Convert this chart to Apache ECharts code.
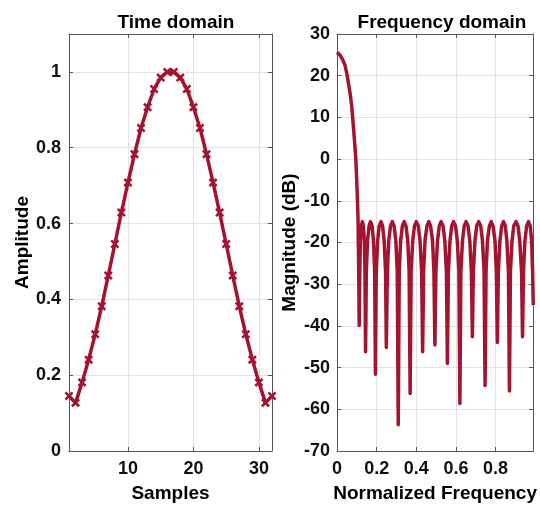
<!DOCTYPE html>
<html>
<head>
<meta charset="utf-8">
<script src="https://cdn.jsdelivr.net/npm/echarts@6/dist/echarts.min.js"></script>
<style>
html,body{margin:0;padding:0;background:#fff;}
#chart{width:540px;height:508px;}
</style>
</head>
<body>
<div id="chart"></div>
<script>
// ---- Data ----
const samples = [1,2,3,4,5,6,7,8,9,10,11,12,13,14,15,16,17,18,19,20,21,22,23,24,25,26,27,28,29,30,31,32];
const timeAmplitude = [0.145,0.127,0.181,0.241,0.308,0.382,0.463,0.546,0.629,0.708,0.783,0.852,0.907,0.955,0.985,1.0,
                       1.0,0.985,0.955,0.907,0.852,0.783,0.708,0.629,0.546,0.463,0.382,0.308,0.241,0.181,0.127,0.145];
const sampleTicks = [10,20,30];

const freqNorm = [
  0,0.008,0.016,0.028,0.041,0.049,0.057,0.066,0.074,0.085,0.095,0.101,0.106,0.109,0.112,
  0.115,0.118,0.123,0.128,0.133,0.138,0.141,0.144,
  0.148,0.154,0.162,0.169,0.177,0.184,0.190,0.194,
  0.198,0.205,0.213,0.222,0.230,0.238,0.245,0.249,
  0.254,0.261,0.270,0.279,0.288,0.297,0.304,0.309,
  0.314,0.321,0.330,0.339,0.348,0.357,0.364,0.369,
  0.374,0.382,0.391,0.400,0.410,0.419,0.427,0.432,
  0.437,0.444,0.454,0.463,0.472,0.482,0.489,0.494,
  0.499,0.507,0.516,0.525,0.535,0.544,0.552,0.557,
  0.562,0.570,0.579,0.588,0.598,0.607,0.615,0.620,
  0.625,0.633,0.642,0.651,0.661,0.670,0.678,0.683,
  0.688,0.696,0.705,0.715,0.725,0.734,0.742,0.747,
  0.752,0.759,0.769,0.778,0.787,0.797,0.804,0.809,
  0.814,0.822,0.831,0.840,0.849,0.857,0.865,0.870,
  0.875,0.883,0.892,0.903,0.913,0.922,0.931,0.936,
  0.941,0.948,0.957,0.966,0.975,0.982,0.987,0.990
];
const magnitudeDb = [
  25.6,25.4,24.9,23.9,22.4,20.6,18.4,15.8,12.8,6.5,0,-7,-14,-25,-39.9,
  -27,-19.6,-16,-15,-16,-19.6,-27,-46.2,
  -27,-19.6,-16,-15,-16,-19.6,-27,-51.6,
  -27,-19.6,-16,-15,-16,-19.6,-27,-45.2,
  -27,-19.6,-16,-15,-16,-19.6,-27,-63.7,
  -27,-19.6,-16,-15,-16,-19.6,-27,-56.2,
  -27,-19.6,-16,-15,-16,-19.6,-27,-46.2,
  -27,-19.6,-16,-15,-16,-19.6,-27,-44.6,
  -27,-19.6,-16,-15,-16,-19.6,-27,-49.0,
  -27,-19.6,-16,-15,-16,-19.6,-27,-58.6,
  -27,-19.6,-16,-15,-16,-19.6,-27,-42.6,
  -27,-19.6,-16,-15,-16,-19.6,-27,-54.3,
  -27,-19.6,-16,-15,-16,-19.6,-27,-44.0,
  -27,-19.6,-16,-15,-16,-19.6,-27,-55.6,
  -27,-19.6,-16,-15,-16,-19.6,-27,-42.6,
  -27,-19.6,-16,-15,-16,-19.6,-27,-35
];

// ---- Styling ----
const RED = '#A2142F';
const FONT = '"Liberation Sans", Arial, sans-serif';
const AX = '#555';
const GRIDC = '#e3e3e3';
const lbl = {color:'#111', fontFamily:FONT, fontWeight:'bold', fontSize:18};
const nameStyle = {color:'#000', fontFamily:FONT, fontWeight:'bold', fontSize:19};
const xMark = 'path://M0,2L2,0L5,3L8,0L10,2L7,5L10,8L8,10L5,7L2,10L0,8L3,5Z';

function boxAxis(base, extra){
  return Object.assign({
    axisLine:{show:true, onZero:false, lineStyle:{color:AX, width:1}},
    axisTick:{show:true, inside:true, length:4, lineStyle:{color:AX}},
    splitLine:{show:false},
    axisLabel:{show:false}
  }, base, extra);
}

const chart = echarts.init(document.getElementById('chart'), null, {renderer:'canvas'});
chart.setOption({
  animation:false,
  backgroundColor:'#fff',
  title:[
    {text:'Time domain', left:171, top:8, textAlign:'center',
     textStyle:{fontFamily:FONT, fontWeight:'bold', fontSize:19, color:'#000'}},
    {text:'Frequency domain', left:437, top:8, textAlign:'center',
     textStyle:{fontFamily:FONT, fontWeight:'bold', fontSize:19, color:'#000'}}
  ],
  grid:[
    {left:69, top:34, width:203, height:420},
    {left:337, top:34, width:201, height:420}
  ],
  xAxis:[
    {type:'value', gridIndex:0, min:1, max:32, position:'bottom',
     name:'Samples', nameLocation:'middle', nameGap:33, nameTextStyle:nameStyle,
     axisLine:{show:true, onZero:false, lineStyle:{color:AX}},
     axisTick:{show:true, inside:true, length:4, customValues:sampleTicks, lineStyle:{color:AX}},
     axisLabel:{show:true, customValues:sampleTicks, margin:9, ...lbl},
     splitLine:{show:true, lineStyle:{color:GRIDC}}},
    boxAxis({type:'value', gridIndex:0, min:1, max:32, position:'top'},
     {axisTick:{show:true, inside:true, length:4, customValues:sampleTicks, lineStyle:{color:AX}}}),
    {type:'value', gridIndex:1, min:0, max:0.99, interval:0.2, position:'bottom',
     name:'Normalized Frequency', nameLocation:'middle', nameGap:33, nameTextStyle:nameStyle,
     axisLine:{show:true, onZero:false, lineStyle:{color:AX}},
     axisTick:{show:true, inside:true, length:4, lineStyle:{color:AX}},
     axisLabel:{show:true, margin:9, showMaxLabel:false, ...lbl},
     splitLine:{show:true, lineStyle:{color:GRIDC}}},
    boxAxis({type:'value', gridIndex:1, min:0, max:0.99, interval:0.2, position:'top'})
  ],
  yAxis:[
    {type:'value', gridIndex:0, min:0, max:1.1, interval:0.2, position:'left',
     name:'Amplitude', nameLocation:'middle', nameGap:34, nameTextStyle:nameStyle,
     axisLine:{show:true, onZero:false, lineStyle:{color:AX}},
     axisTick:{show:true, inside:true, length:4, lineStyle:{color:AX}},
     axisLabel:{show:true, margin:8, showMaxLabel:false, ...lbl},
     splitLine:{show:true, lineStyle:{color:GRIDC}}},
    boxAxis({type:'value', gridIndex:0, min:0, max:1.1, interval:0.2, position:'right'}),
    {type:'value', gridIndex:1, min:-70, max:30, interval:10, position:'left',
     name:'Magnitude (dB)', nameLocation:'middle', nameGap:38, nameTextStyle:nameStyle,
     axisLine:{show:true, onZero:false, lineStyle:{color:AX}},
     axisTick:{show:true, inside:true, length:4, lineStyle:{color:AX}},
     axisLabel:{show:true, margin:7, ...lbl},
     splitLine:{show:true, lineStyle:{color:GRIDC}}},
    boxAxis({type:'value', gridIndex:1, min:-70, max:30, interval:10, position:'right'})
  ],
  series:[
    {type:'line', xAxisIndex:0, yAxisIndex:0,
     data:samples.map((s,i)=>[s, timeAmplitude[i]]),
     symbol:xMark, symbolSize:9, showAllSymbol:true,
     itemStyle:{color:RED},
     lineStyle:{color:RED, width:3.5, join:'round'},
     clip:false, z:3},
    {type:'line', xAxisIndex:2, yAxisIndex:2,
     data:freqNorm.map((f,i)=>[f, magnitudeDb[i]]),
     showSymbol:false, symbol:'none',
     lineStyle:{color:RED, width:3.5, join:'round'},
     clip:true, z:3}
  ]
});
</script>
</body>
</html>
